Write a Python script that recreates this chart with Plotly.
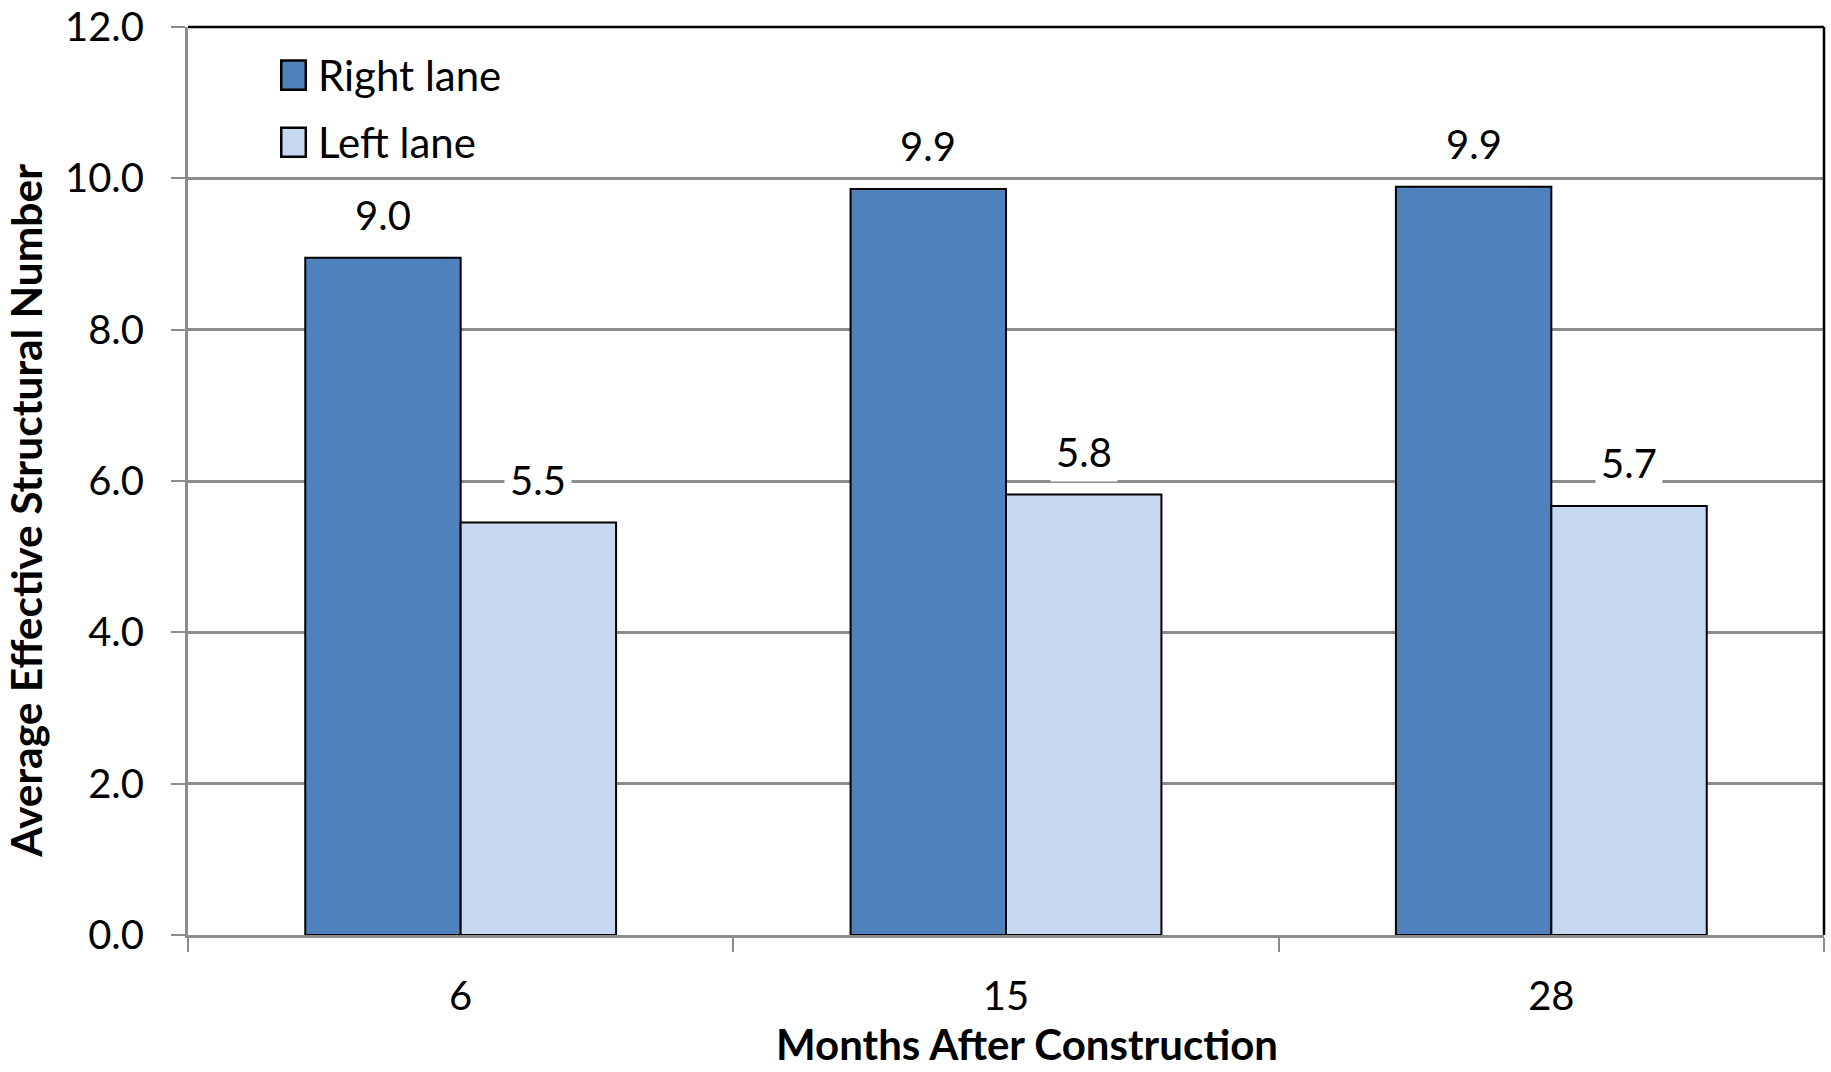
import plotly.graph_objects as go

categories = ["6", "15", "28"]
series_names = ["Right lane", "Left lane"]
right_lane = [8.95, 9.86, 9.89]
left_lane = [5.45, 5.82, 5.67]
right_labels = ["9.0", "9.9", "9.9"]
left_labels = ["5.5", "5.8", "5.7"]
y_ticks = [0, 2, 4, 6, 8, 10, 12]
x_title = "Months After Construction"
y_title = "Average Effective Structural Number"

colors = ["#4F81BD", "#C6D9F1"]
FONT = "Lato"
GRID = "#8C8C8C"

fig = go.Figure()
for name, vals, col in zip(series_names, [right_lane, left_lane], colors):
    fig.add_trace(go.Bar(
        x=categories, y=vals, name=name,
        marker=dict(color=col, line=dict(color="black", width=2)),
        showlegend=False,
    ))

# value labels with white background (via annotations)
bar_w = (1 - 0.43) / 2
for offs, vals, labs in [(-bar_w / 2, right_lane, right_labels), (bar_w / 2, left_lane, left_labels)]:
    for i, (v, t) in enumerate(zip(vals, labs)):
        fig.add_annotation(
            x=i + offs, y=v, xref="x", yref="y", text=t, showarrow=False,
            yshift=43, bgcolor="white", borderpad=5,
            font=dict(family=FONT, size=40, color="black"),
        )

# custom legend
leg_y = [(0.931, 0.963), (0.857, 0.889)]
for name, col, (y0, y1) in zip(series_names, colors, leg_y):
    fig.add_shape(type="rect", xref="paper", yref="paper",
                  x0=0.057, x1=0.072, y0=y0, y1=y1,
                  fillcolor=col, line=dict(color="black", width=2.5))
    fig.add_annotation(xref="paper", yref="paper", x=0.078, y=(y0 + y1) / 2,
                       xanchor="left", yanchor="middle", text=name, showarrow=False,
                       font=dict(family=FONT, size=42, color="black"))

# axis titles
fig.add_annotation(xref="paper", yref="paper", x=0.513, y=-0.1200,
                   xanchor="center", yanchor="middle", text=x_title, showarrow=False,
                   font=dict(family=FONT, size=42, color="black", weight="bold"))
fig.add_annotation(xref="paper", yref="paper", x=-0.0992, y=0.467, textangle=-90,
                   xanchor="center", yanchor="middle", text=y_title, showarrow=False,
                   font=dict(family=FONT, size=42.5, color="black", weight="bold"))

# plot-area black border on top and right
fig.add_shape(type="line", xref="paper", yref="paper", x0=0, x1=1, y0=1, y1=1,
              line=dict(color="black", width=2.5))
fig.add_shape(type="line", xref="paper", yref="paper", x0=1, x1=1, y0=0, y1=1,
              line=dict(color="black", width=2.5))

fig.update_layout(
    width=1831, height=1072,
    margin=dict(l=188, r=7, t=27, b=137, autoexpand=False),
    plot_bgcolor="white", paper_bgcolor="white",
    barmode="group", bargap=0.43, bargroupgap=0,
    font=dict(family=FONT, color="black"),
)
fig.update_xaxes(
    type="category", showline=True, linecolor=GRID, linewidth=3,
    ticks="outside", tickson="boundaries", ticklen=14, tickwidth=2, tickcolor=GRID,
    tickfont=dict(family=FONT, size=40, color="black"), ticklabelstandoff=24,
    showgrid=False, automargin=False,
)
fig.update_yaxes(
    range=[0, 12], tickvals=y_ticks, tickformat=".1f",
    showline=True, linecolor=GRID, linewidth=3,
    ticks="outside", ticklen=14, tickwidth=2, tickcolor=GRID,
    tickfont=dict(family=FONT, size=40, color="black"), ticklabelstandoff=19,
    ticklabeloverflow="allow",
    showgrid=True, gridcolor=GRID, gridwidth=2.5, zeroline=False, automargin=False,
)

fig.write_html("out.html")
